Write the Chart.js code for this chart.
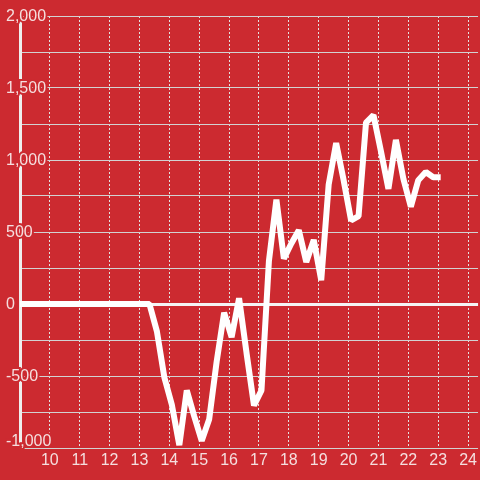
<!DOCTYPE html>
<html>
<head>
<meta charset="utf-8">
<script src="https://cdn.jsdelivr.net/npm/chart.js@4/dist/chart.umd.min.js"></script>
<style>
html, body { margin: 0; padding: 0; background: #cc2a30; }
#c { display: block; background: #cc2a30; }
</style>
</head>
<body>
<canvas id="c" width="480" height="480"></canvas>
<script>
// time of day (hours) and value
const times = [8.833, 9.083, 9.333, 9.583, 9.833, 10.083, 10.333, 10.583, 10.833, 11.083,
  11.333, 11.583, 11.833, 12.083, 12.333, 12.583, 12.833, 13.083, 13.333, 13.583,
  13.833, 14.083, 14.333, 14.583, 14.833, 15.083, 15.333, 15.583, 15.833, 16.083,
  16.333, 16.583, 16.833, 17.083, 17.333, 17.583, 17.833, 18.083, 18.333, 18.583,
  18.833, 19.083, 19.333, 19.583, 19.833, 20.083, 20.333, 20.583, 20.833, 21.083,
  21.333, 21.583, 21.833, 22.083, 22.333, 22.583, 22.833, 23.083];
const values = [0, 0, 0, 0, 0, 0, 0, 0, 0, 0,
  0, 0, 0, 0, 0, 0, 0, 0, 0, -190,
  -510, -700, -980, -600, -780, -950, -800, -400, -60, -230,
  40, -340, -705, -600, 300, 725, 315, 420, 512, 292,
  445, 165, 830, 1118, 860, 580, 610, 1260, 1312, 1060,
  800, 1140, 870, 675, 860, 917, 880, 880];

const xTickValues = [10, 11, 12, 13, 14, 15, 16, 17, 18, 19, 20, 21, 22, 23, 24];
const yGridValues = [-1000, -750, -500, -250, 0, 250, 500, 750, 1000, 1250, 1500, 1750, 2000];
const yLabelValues = [-1000, -500, 0, 500, 1000, 1500, 2000];

const BG = '#cc2a30';
const TEXT = '#f5dede';
const FAMILY = '"Liberation Sans", Arial, sans-serif';
const FONT = { family: FAMILY, size: 16 };
const yMin = -1000, yMax = 2000;

new Chart(document.getElementById('c'), {
  type: 'line',
  data: {
    datasets: [{
      data: times.map((t, i) => ({ x: t, y: values[i] })),
      borderColor: '#ffffff',
      borderWidth: 6,
      borderJoinStyle: 'bevel',
      pointRadius: 0,
      pointHoverRadius: 0,
      tension: 0,
      fill: false
    }]
  },
  options: {
    responsive: false,
    animation: false,
    devicePixelRatio: 1,
    layout: { padding: { top: 16, left: 0, right: 0, bottom: 0 }, autoPadding: false },
    plugins: { legend: { display: false }, tooltip: { enabled: false } },
    scales: {
      x: {
        type: 'linear',
        position: 'bottom',
        min: 9,
        max: 24.3333,
        afterBuildTicks: s => { s.ticks = xTickValues.map(v => ({ value: v })); },
        afterFit: s => { s.height = 32; },
        ticks: { color: TEXT, font: FONT, padding: 3, maxRotation: 0, autoSkip: false,
          callback: v => String(v) },
        grid: { color: '#e2e2e2', lineWidth: 1, drawTicks: false },
        border: { display: false, dash: [2, 2] }
      },
      y: {
        type: 'linear',
        position: 'left',
        min: yMin,
        max: yMax,
        afterBuildTicks: s => { s.ticks = yGridValues.map(v => ({ value: v })); },
        afterFit: s => { s.width = 20; },
        ticks: {
          mirror: true,
          padding: -14,
          labelOffset: 1,
          color: TEXT,
          font: c => (c.tick && c.tick.value === yMin)
            ? { family: FAMILY, size: 16, lineHeight: 0.9 }
            : FONT,
          autoSkip: false,
          textStrokeColor: BG,
          textStrokeWidth: 4,
          callback: v => {
            if (!yLabelValues.includes(v)) return '';
            const s = v.toLocaleString('en-US');
            return v === yMin ? [s, ''] : s;
          }
        },
        grid: {
          color: c => c.tick && c.tick.value === 0 ? '#f4f4f4' : '#d2d2d2',
          lineWidth: c => c.tick && c.tick.value === 0 ? 3 : 1,
          drawTicks: false
        },
        border: { display: true, color: '#efefef', width: 3 }
      }
    }
  }
});
</script>
</body>
</html>
